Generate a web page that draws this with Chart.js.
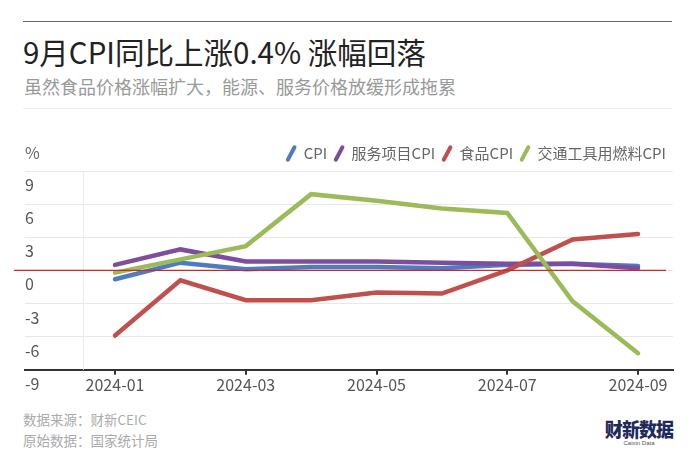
<!DOCTYPE html>
<html>
<head>
<meta charset="utf-8">
<script src="https://cdn.jsdelivr.net/npm/chart.js@4.4.1/dist/chart.umd.min.js"></script>
<style>
  html, body { margin: 0; padding: 0; background: #fff; }
  body { width: 690px; height: 460px; position: relative; overflow: hidden;
         font-family: "Noto Sans CJK SC", "Noto Sans", sans-serif; }
  .topline { position: absolute; left: 23px; right: 18px; top: 21px; height: 0; border-top: 1.5px solid #666; }
  .sepline { position: absolute; left: 23px; right: 18px; top: 108px; height: 0; border-top: 1px solid #eee; }
  .title { position: absolute; left: 23px; top: 32px; font-size: 29.5px; line-height: 38px; color: #222; white-space: nowrap; }
  .subtitle { position: absolute; left: 24px; top: 74px; font-size: 18px; line-height: 24px; color: #999; white-space: nowrap; }
  .foot { position: absolute; left: 23px; font-size: 13.5px; line-height: 18px; color: #aaa; white-space: nowrap; }
  .logo { position: absolute; left: 601px; top: 419px; width: 76px; text-align: center; color: #1f2a5c; }
  .logo .cn { font-size: 19px; font-weight: 900; line-height: 20px; letter-spacing: -1px; transform: scaleX(0.95); }
  .logo .en { font-size: 6px; line-height: 8px; color: #555; font-family: "Liberation Sans", sans-serif; }
  #wrap { position: absolute; left: 0; top: 130px; width: 690px; height: 270px; }
</style>
</head>
<body>
<div class="topline"></div>
<div class="title">9月CPI同比上涨0.4% 涨幅回落</div>
<div class="subtitle">虽然食品价格涨幅扩大，能源、服务价格放缓形成拖累</div>
<div class="sepline"></div>
<div id="wrap"><canvas id="c" width="690" height="270"></canvas></div>
<div class="foot" style="top:410px">数据来源：财新CEIC</div>
<div class="foot" style="top:431px">原始数据：国家统计局</div>
<div class="logo"><div class="cn">财新数据</div><div class="en">Caixin Data</div></div>
<script>
// ---- data ----
const months = ['2024-01','2024-02','2024-03','2024-04','2024-05','2024-06','2024-07','2024-08','2024-09'];
const tickMonths = ['2024-01','2024-03','2024-05','2024-07','2024-09'];
const yTicks = [-9, -6, -3, 0, 3, 6, 9];
const seriesNames = ['CPI', '服务项目CPI', '食品CPI', '交通工具用燃料CPI'];
const cpi      = [-0.8, 0.7, 0.1, 0.3, 0.3, 0.2, 0.5, 0.6, 0.4];
const services = [0.5, 1.9, 0.8, 0.8, 0.8, 0.7, 0.6, 0.6, 0.2];
const food     = [-5.9, -0.9, -2.7, -2.7, -2.0, -2.1, 0.0, 2.8, 3.3];
const fuel     = [-0.2, 1.0, 2.2, 6.9, 6.3, 5.6, 5.2, -2.8, -7.5];

const colors = ['#4f7bbf', '#7d4d9f', '#c0504d', '#9bbb59'];
const seriesValues = [cpi, services, food, fuel];
const drawOrder = [3, 2, 1, 0];

const datasets = seriesValues.map((vals, i) => ({
  label: seriesNames[i],
  data: vals.map((v, j) => ({ x: j, y: v })),
  borderColor: colors[i],
  backgroundColor: colors[i],
  borderWidth: 4.5,
  pointRadius: 0,
  tension: 0,
  fill: false,
  borderCapStyle: 'round',
  order: drawOrder[i]
}));

const extras = {
  id: 'extras',
  beforeDatasetsDraw(chart) {
    const { ctx, chartArea, scales } = chart;
    const xs = scales.x;
    ctx.save();
    const vx = Math.round(xs.getPixelForValue(-0.49)) + 0.5;
    ctx.strokeStyle = '#ececec';
    ctx.lineWidth = 1;
    ctx.beginPath();
    ctx.moveTo(vx, chartArea.top);
    ctx.lineTo(vx, chartArea.bottom);
    ctx.stroke();
    ctx.restore();
  },
  afterDatasetsDraw(chart) {
    const { ctx, chartArea, scales } = chart;
    const ys = scales.y;
    ctx.save();
    const y0 = ys.getPixelForValue(0);
    ctx.strokeStyle = '#cc2a2a';
    ctx.lineWidth = 1.3;
    ctx.beginPath();
    ctx.moveTo(chartArea.left - 11, y0);
    ctx.lineTo(chartArea.right - 7, y0);
    ctx.stroke();
    ctx.restore();
  },
  afterDraw(chart) {
    const { ctx, chartArea } = chart;
    ctx.save();
    ctx.fillStyle = '#666';
    ctx.font = '16px "Noto Sans CJK SC", "Noto Sans", sans-serif';
    ctx.textBaseline = 'middle';
    ctx.textAlign = 'left';
    ctx.fillText('%', chartArea.left, 23);
    ctx.restore();
  }
};

new Chart(document.getElementById('c'), {
  type: 'line',
  data: { datasets },
  plugins: [extras],
  options: {
    responsive: false,
    animation: false,
    layout: { padding: { left: 25, right: 17, top: 9, bottom: 4 } },
    plugins: {
      tooltip: { enabled: false },
      legend: {
        position: 'top',
        align: 'end',
        labels: {
          usePointStyle: true,
          boxWidth: 10,
          boxHeight: 10,
          padding: 7,
          color: '#666',
          font: { size: 15, family: '"Noto Sans CJK SC", "Noto Sans", sans-serif' },
          sort: (a, b) => a.datasetIndex - b.datasetIndex,
          generateLabels(chart) {
            return chart.data.datasets.map((ds, i) => ({
              text: ds.label,
              fillStyle: ds.borderColor,
              strokeStyle: ds.borderColor,
              fontColor: '#666',
              lineWidth: 4,
              lineCap: 'round',
              pointStyle: 'line',
              rotation: -62,
              hidden: false,
              datasetIndex: i
            }));
          }
        }
      }
    },
    scales: {
      x: {
        type: 'linear',
        min: -1.377,
        max: 8.535,
        afterBuildTicks(scale) {
          scale.ticks = tickMonths.map(m => ({ value: months.indexOf(m) }));
        },
        ticks: {
          autoSkip: false,
          maxRotation: 0,
          padding: 1,
          color: '#555',
          font: { size: 16, family: '"Noto Sans CJK SC", "Noto Sans", sans-serif' },
          callback: (v) => months[v]
        },
        grid: { drawOnChartArea: false, drawTicks: true, tickLength: 5, color: '#333', lineWidth: 2 },
        border: { display: true, color: '#333', width: 2 }
      },
      y: {
        min: -9,
        max: 9,
        afterBuildTicks(scale) {
          scale.ticks = yTicks.map(v => ({ value: v }));
        },
        ticks: {
          mirror: true,
          padding: 0,
          labelOffset: 14,
          color: '#555',
          font: { size: 16, family: '"Noto Sans CJK SC", "Noto Sans", sans-serif' }
        },
        grid: { color: '#e8e8e8', lineWidth: 1, drawTicks: false },
        border: { display: false }
      }
    }
  }
});
</script>
</body>
</html>
